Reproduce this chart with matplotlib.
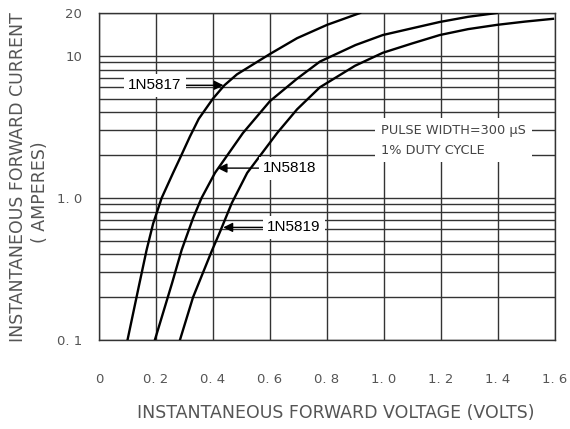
import matplotlib
matplotlib.use("Agg")
import matplotlib.pyplot as plt
from matplotlib.ticker import FixedLocator, NullFormatter

# forward voltage (V) / forward current (A)
v_5817 = [0.100, 0.140, 0.167, 0.190, 0.220, 0.260, 0.284, 0.319, 0.350, 0.400, 0.440, 0.484,
          0.600, 0.695, 0.800, 0.916]
i_5817 = [0.10, 0.24, 0.43, 0.66, 1.0, 1.5, 1.9, 2.7, 3.6, 5.0, 6.2, 7.4,
          10.3, 13.3, 16.5, 20.0]

v_5818 = [0.196, 0.256, 0.290, 0.330, 0.360, 0.407, 0.505, 0.600, 0.695, 0.775, 0.900, 0.996,
          1.098, 1.196, 1.295, 1.396]
i_5818 = [0.10, 0.25, 0.43, 0.72, 1.0, 1.5, 2.86, 4.8, 6.9, 9.1, 11.9, 14.0,
          15.6, 17.3, 18.8, 20.0]

v_5819 = [0.284, 0.330, 0.395, 0.425, 0.466, 0.520, 0.625, 0.695, 0.775, 0.898, 0.996, 1.098,
          1.196, 1.295, 1.396, 1.495, 1.593]
i_5819 = [0.10, 0.20, 0.42, 0.58, 0.92, 1.5, 2.86, 4.2, 6.0, 8.5, 10.5, 12.2,
          14.0, 15.4, 16.5, 17.4, 18.2]

x_ticks = [0.0, 0.2, 0.4, 0.6, 0.8, 1.0, 1.2, 1.4, 1.6]
x_labels = ["0", "0. 2", "0. 4", "0. 6", "0. 8", "1. 0", "1. 2", "1. 4", "1. 6"]
y_ticks = [0.1, 1.0, 10.0, 20.0]
y_labels = ["0. 1", "1. 0", "10", "20"]
y_minor = [0.2, 0.3, 0.4, 0.5, 0.6, 0.7, 0.8, 0.9, 2, 3, 4, 5, 6, 7, 8, 9]

GRID = "#333333"
LABEL = "#555555"

fig = plt.figure(figsize=(5.7, 4.29), dpi=100)
ax = fig.add_axes([99 / 570, 1 - 340 / 429, 456 / 570, 327 / 429])
ax.set_yscale("log")
ax.set_xlim(0, 1.6)
ax.set_ylim(0.1, 20)

ax.xaxis.set_major_locator(FixedLocator(x_ticks))
ax.set_xticklabels(x_labels)
ax.yaxis.set_major_locator(FixedLocator(y_ticks))
ax.yaxis.set_minor_locator(FixedLocator(y_minor))
ax.yaxis.set_minor_formatter(NullFormatter())
ax.set_yticklabels(y_labels)
ax.tick_params(which="both", length=0)
ax.tick_params(axis="x", pad=24, labelsize=9.5, labelcolor=LABEL)
ax.tick_params(axis="y", pad=12, labelsize=9.5, labelcolor=LABEL)
ax.grid(True, which="both", color=GRID, lw=1.0)
ax.set_axisbelow(True)
for s in ax.spines.values():
    s.set_color(GRID)
    s.set_linewidth(1.0)

for v, i in [(v_5817, i_5817), (v_5818, i_5818), (v_5819, i_5819)]:
    ax.plot(v, i, color="black", lw=1.7, zorder=3, solid_joinstyle="round")

box = dict(boxstyle="square,pad=0.3", fc="white", ec="none")
arr = dict(arrowstyle="-|>", color="black", lw=1.0, mutation_scale=14, shrinkA=0, shrinkB=0)
ax.annotate("1N5817", xy=(0.437, 6.2), xytext=(0.196, 6.2), ha="center", va="center",
            fontsize=11, family="Liberation Sans", bbox=box, arrowprops=arr, zorder=4)
ax.annotate("1N5818", xy=(0.416, 1.62), xytext=(0.67, 1.62), ha="center", va="center",
            fontsize=11, family="Liberation Sans", bbox=box, arrowprops=arr, zorder=4)
ax.annotate("1N5819", xy=(0.436, 0.62), xytext=(0.684, 0.62), ha="center", va="center",
            fontsize=11, family="Liberation Sans", bbox=box, arrowprops=arr, zorder=4)

ax.text(0.99, 2.55, "PULSE WIDTH=300 μS\n1% DUTY CYCLE", ha="left", va="center",
        fontsize=9.3, color="#444444", linespacing=1.7,
        bbox=dict(boxstyle="square,pad=0.45", fc="white", ec="none"), zorder=4)

fig.text(18 / 570, 1 - 177 / 429, "INSTANTANEOUS FORWARD CURRENT", rotation=90,
         ha="center", va="center", fontsize=12.5, color=LABEL)
fig.text(40 / 570, 1 - 192 / 429, "( AMPERES)", rotation=90,
         ha="center", va="center", fontsize=12.5, color=LABEL)
fig.text(336 / 570, 1 - 413 / 429, "INSTANTANEOUS FORWARD VOLTAGE (VOLTS)",
         ha="center", va="center", fontsize=12.5, color=LABEL)

fig.savefig("out.png", dpi=100, facecolor="white")
